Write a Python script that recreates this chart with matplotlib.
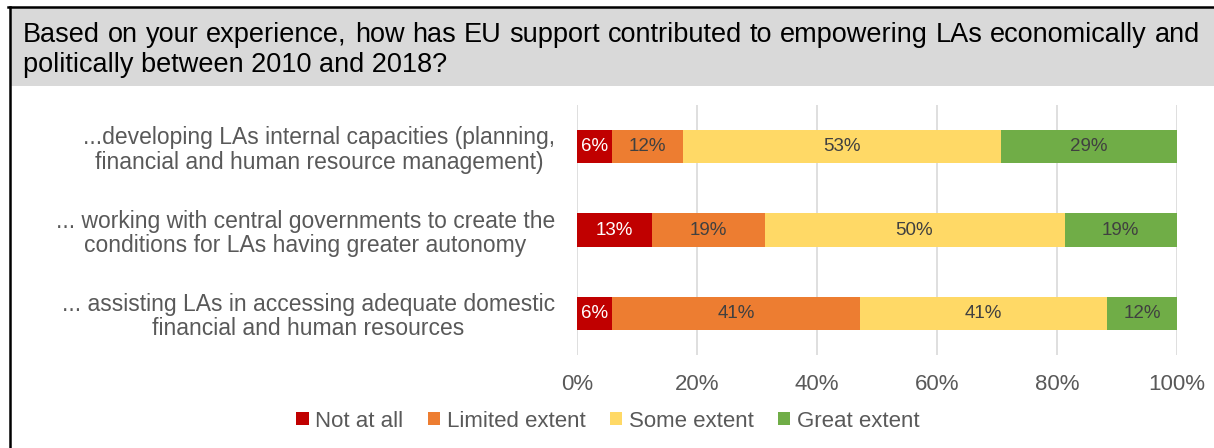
import matplotlib.pyplot as plt
from matplotlib.patches import Patch, Rectangle
from matplotlib.lines import Line2D
import numpy as np

plt.rcParams['font.family'] = ['Liberation Sans', 'DejaVu Sans']

title_lines = ["Based on your experience, how has EU support contributed to empowering LAs economically and",
               "politically between 2010 and 2018?"]

categories = ["...developing LAs internal capacities (planning,\nfinancial and human resource management)",
              "... working with central governments to create the\nconditions for LAs having greater autonomy",
              "... assisting LAs in accessing adequate domestic\nfinancial and human resources"]

levels = ["Not at all", "Limited extent", "Some extent", "Great extent"]

# share of answers per level, in percent
not_at_all = [5.9, 12.5, 5.9]
limited = [11.8, 18.75, 41.2]
some = [52.9, 50.0, 41.2]
great = [29.4, 18.75, 11.8]

xticks = [0, 20, 40, 60, 80, 100]

colors = ["#C00000", "#ED7D31", "#FFD966", "#70AD47"]
label_colors = ["white", "#404040", "#404040", "#404040"]
grey = "#595959"

fig = plt.figure(figsize=(12.14, 4.48), dpi=100)
W, H = 1214, 448

# title band with border
fig.patches.append(Rectangle((10 / W, 1 - 86 / H), 1 - 10 / W, 78 / H, transform=fig.transFigure,
                             facecolor="#D9D9D9", edgecolor="none", zorder=0))
fig.lines.append(Line2D([8 / W, 1], [1 - 7 / H, 1 - 7 / H], transform=fig.transFigure, color="black", lw=1.8))
fig.lines.append(Line2D([10 / W, 10 / W], [0, 1 - 7 / H], transform=fig.transFigure, color="black", lw=1.8))

# first title line is justified across the band, second one left aligned
renderer = fig.canvas.get_renderer()
words = title_lines[0].split()
word_texts = [fig.text(0, 1 - 42 / H, w, fontsize=19.5, va='baseline', color="black") for w in words]
widths = [t.get_window_extent(renderer).width for t in word_texts]
gap = (1200 - 23 - sum(widths)) / (len(words) - 1)
xpos = 23
for t, w in zip(word_texts, widths):
    t.set_x(xpos / W)
    xpos += w + gap
fig.text(23 / W, 1 - 72 / H, title_lines[1], fontsize=19.5, va='baseline', color="black")

ax = fig.add_axes([577 / W, 1 - 355 / H, 600 / W, 250 / H])

series = [not_at_all, limited, some, great]
y = np.arange(len(categories))
left = np.zeros(len(categories))
for vals, col, tcol in zip(series, colors, label_colors):
    vals = np.array(vals)
    ax.barh(y, vals, left=left, height=0.4, color=col, zorder=2)
    for yi, l, v in zip(y, left, vals):
        ax.text(l + v / 2, yi, f"{int(v + 0.5)}%", ha='center', va='center', color=tcol, fontsize=13.5, zorder=3)
    left = left + vals

ax.set_xlim(0, 100)
ax.set_ylim(2.5, -0.5)
ax.set_xticks(xticks)
ax.set_xticklabels([f"{t}%" for t in xticks], fontsize=16, color=grey)
ax.tick_params(axis='x', length=0, pad=14)
ax.set_yticks([])
ax.grid(axis='x', color="#D9D9D9", lw=1.2, zorder=0)
for s in ax.spines.values():
    s.set_visible(False)

for yi, cat in zip(y, categories):
    ax.text(-0.037, yi + 0.04, cat, transform=ax.get_yaxis_transform(), ha='right', va='center',
            multialignment='center', fontsize=16.5, color=grey, linespacing=1.08)

handles = [Patch(facecolor=c, edgecolor='none') for c in colors]
fig.legend(handles, levels, loc='center', bbox_to_anchor=(608 / W, 1 - 421 / H), ncol=4, frameon=False,
           fontsize=16, labelcolor=grey, handlelength=0.55, handleheight=0.55, handletextpad=0.3,
           columnspacing=1.1)

fig.savefig("out.png", dpi=100)
